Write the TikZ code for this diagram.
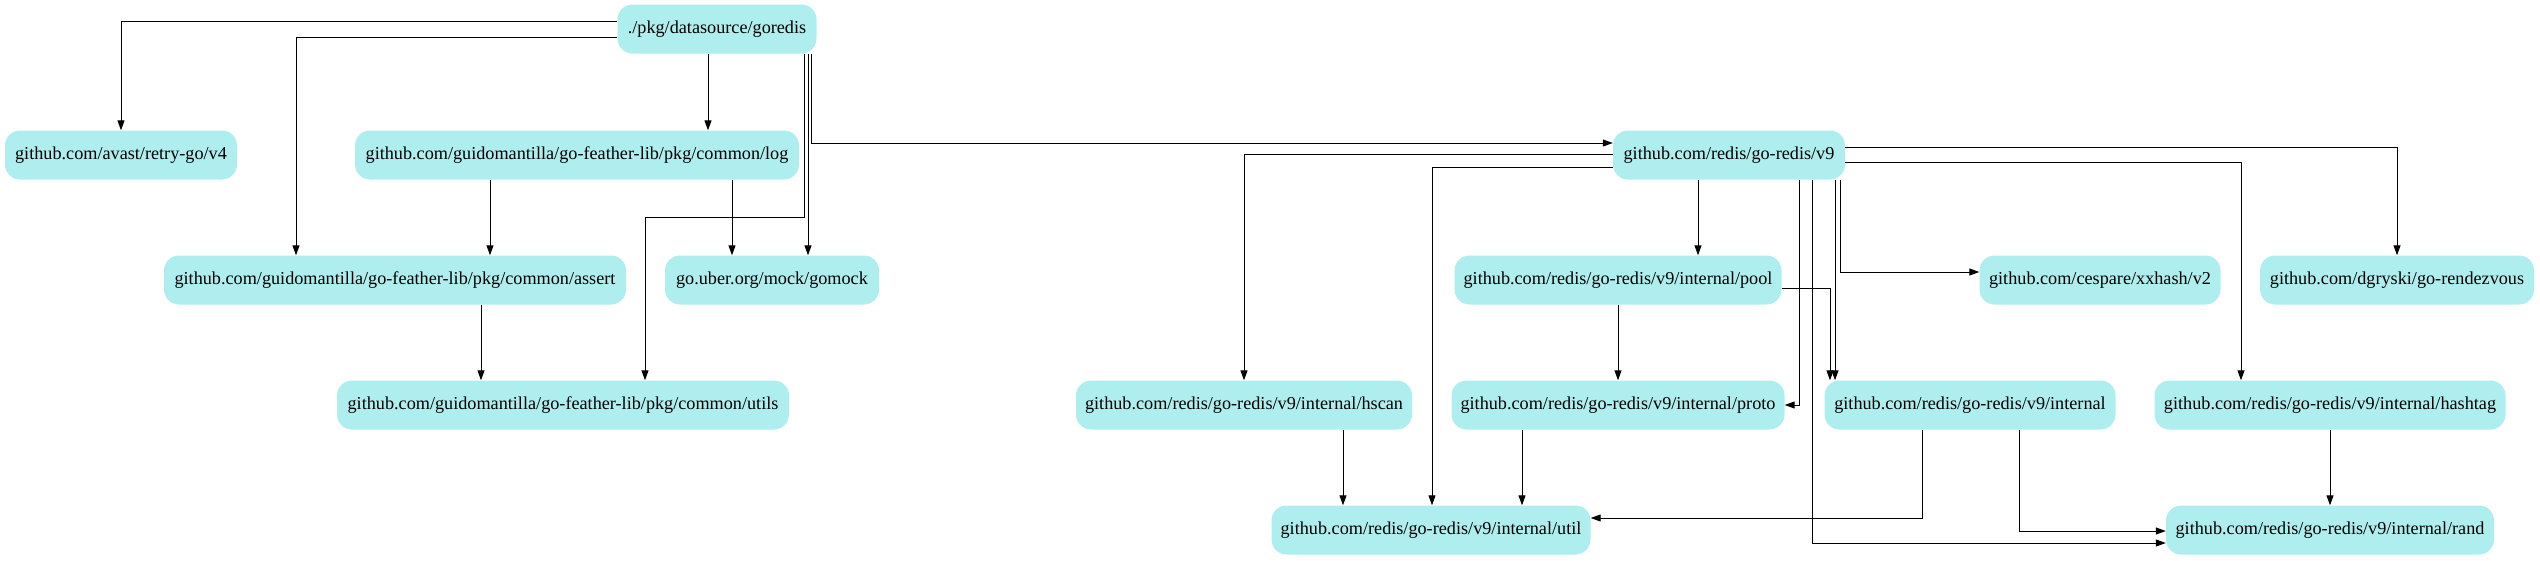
\documentclass[tikz,border=0pt]{standalone}
\usepackage{fontspec}
\setmainfont{Liberation Serif}
\usetikzlibrary{arrows.meta}
\definecolor{boxfill}{HTML}{AFEEEE}
\tikzset{
  pkg/.style={fill=boxfill, rounded corners=15pt, minimum height=49pt, inner sep=0pt,
    font=\fontsize{18.2}{22}\selectfont, text=black, anchor=center},
  arr/.style={-{Triangle[length=10pt,width=7pt]}, line width=1pt, black}
}
\begin{document}
\begin{tikzpicture}[x=1pt,y=-1pt]
\useasboundingbox (0,0) rectangle (2540,560);
% nodes
\node[pkg, minimum width=199pt] (goredis) at (717,29) {./pkg/datasource/goredis};
\node[pkg, minimum width=232pt] (retry) at (121,155) {github.com/avast/retry-go/v4};
\node[pkg, minimum width=444pt] (log) at (577,155) {github.com/guidomantilla/go-feather-lib/pkg/common/log};
\node[pkg, minimum width=462pt] (assert) at (395,280) {github.com/guidomantilla/go-feather-lib/pkg/common/assert};
\node[pkg, minimum width=214pt] (gomock) at (772,280) {go.uber.org/mock/gomock};
\node[pkg, minimum width=452pt] (utils) at (563,405) {github.com/guidomantilla/go-feather-lib/pkg/common/utils};
\node[pkg, minimum width=232pt] (v9) at (1729,155) {github.com/redis/go-redis/v9};
\node[pkg, minimum width=327pt] (pool) at (1618,280) {github.com/redis/go-redis/v9/internal/pool};
\node[pkg, minimum width=241pt] (xxhash) at (2100,280) {github.com/cespare/xxhash/v2};
\node[pkg, minimum width=274pt] (rendezvous) at (2397,280) {github.com/dgryski/go-rendezvous};
\node[pkg, minimum width=336pt] (hscan) at (1244,405) {github.com/redis/go-redis/v9/internal/hscan};
\node[pkg, minimum width=333pt] (proto) at (1618,405) {github.com/redis/go-redis/v9/internal/proto};
\node[pkg, minimum width=291pt] (internal) at (1970,405) {github.com/redis/go-redis/v9/internal};
\node[pkg, minimum width=351pt] (hashtag) at (2330,405) {github.com/redis/go-redis/v9/internal/hashtag};
\node[pkg, minimum width=319pt] (util) at (1431,530) {github.com/redis/go-redis/v9/internal/util};
\node[pkg, minimum width=328pt] (rand) at (2330,530) {github.com/redis/go-redis/v9/internal/rand};
% edges from goredis
\draw[arr] (goredis.west |- 0,21) -| (retry.north);
\draw[arr] (goredis.west |- 0,37) -| (296,0 |- assert.north);
\draw[arr] (708,0 |- goredis.south) -- (708,0 |- log.north);
\draw[arr] (804,0 |- goredis.south) -- (804,217) -| (645,0 |- utils.north);
\draw[arr] (808,0 |- goredis.south) -- (808,0 |- gomock.north);
\draw[arr] (811,0 |- goredis.south) |- (v9.west |- 0,143);
% edges from log / assert
\draw[arr] (490,0 |- log.south) -- (490,0 |- assert.north);
\draw[arr] (732,0 |- log.south) -- (732,0 |- gomock.north);
\draw[arr] (481,0 |- assert.south) -- (481,0 |- utils.north);
% edges from v9
\draw[arr] (v9.west |- 0,154) -| (hscan.north);
\draw[arr] (v9.west |- 0,167) -| (1432,0 |- util.north);
\draw[arr] (1698,0 |- v9.south) -- (1698,0 |- pool.north);
\draw[arr] (1799,0 |- v9.south) |- (proto.east);
\draw[arr] (1812,0 |- v9.south) |- (rand.west |- 0,543);
\draw[arr] (1835,0 |- v9.south) -- (1835,0 |- internal.north);
\draw[arr] (1840,0 |- v9.south) |- (xxhash.west |- 0,272);
\draw[arr] (v9.east |- 0,147) -| (rendezvous.north);
\draw[arr] (v9.east |- 0,162) -| (2241,0 |- hashtag.north);
% other edges
\draw[arr] (pool.east |- 0,288) -| (1830,0 |- internal.north);
\draw[arr] (pool.south) -- (proto.north);
\draw[arr] (1343,0 |- hscan.south) -- (1343,0 |- util.north);
\draw[arr] (1522,0 |- proto.south) -- (1522,0 |- util.north);
\draw[arr] (1922,0 |- internal.south) |- (util.east |- 0,518);
\draw[arr] (2019,0 |- internal.south) |- (rand.west |- 0,531);
\draw[arr] (hashtag.south) -- (rand.north);
\end{tikzpicture}
\end{document}
